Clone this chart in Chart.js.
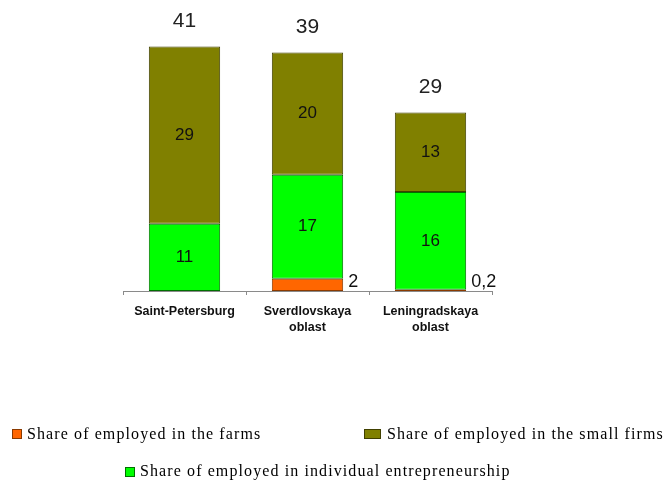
<!DOCTYPE html>
<html>
<head>
<meta charset="utf-8">
<script src="https://cdn.jsdelivr.net/npm/chart.js@4.4.1/dist/chart.umd.min.js"></script>
<style>
  html, body { margin: 0; padding: 0; background: #ffffff; }
  #wrap { width: 667px; height: 484px; }
</style>
</head>
<body>
<div id="wrap"><canvas id="chart" width="667" height="484"></canvas></div>
<script>
// Regions (multi-line category labels)
const regions = [['Saint-Petersburg'], ['Sverdlovskaya', 'oblast'], ['Leningradskaya', 'oblast']];

// Shares of employed, % (stacked bottom to top)
const farms = [0, 2, 0.2];
const individual = [11, 17, 16];
const smallFirms = [29, 20, 13];

// Printed totals above each column
const totals = [41, 39, 29];
// Printed labels for the farms share (comma decimal)
const farmLabels = ['', '2', '0,2'];

const seriesNames = [
  'Share of employed in the farms',
  'Share of employed in individual entrepreneurship',
  'Share of employed in the small firms'
];
const colors = ['#ff6600', '#00ff00', '#808000'];
const borders = ['#8a3a00', '#007000', '#404000'];

// Values written on and above the columns
const valueLabels = {
  id: 'valueLabels',
  afterDatasetsDraw(chart) {
    const ctx = chart.ctx;
    const y0 = chart.scales.y.getPixelForValue(0);
    ctx.save();
    ctx.fillStyle = '#111';
    ctx.textBaseline = 'middle';
    // farms: written beside the column
    chart.getDatasetMeta(0).data.forEach((bar, i) => {
      if (!farms[i]) return;
      ctx.font = '18px "Liberation Sans", Arial, sans-serif';
      ctx.textAlign = 'left';
      ctx.fillText(farmLabels[i], bar.x + bar.width / 2 + 5, y0 - 9);
    });
    // individual and small firms: centred in the segment
    [1, 2].forEach(d => {
      const vals = chart.data.datasets[d].data;
      chart.getDatasetMeta(d).data.forEach((bar, i) => {
        ctx.font = '17px "Liberation Sans", Arial, sans-serif';
        ctx.textAlign = 'center';
        ctx.fillText(String(vals[i]), bar.x, (bar.y + bar.base) / 2);
      });
    });
    // totals above the column
    chart.getDatasetMeta(2).data.forEach((bar, i) => {
      ctx.font = '21px "Liberation Sans", Arial, sans-serif';
      ctx.fillStyle = '#222';
      ctx.textAlign = 'center';
      ctx.fillText(String(totals[i]), bar.x, bar.y - 25);
    });
    ctx.restore();
  }
};

// Legend laid out in two rows under the chart
const bottomLegend = {
  id: 'bottomLegend',
  afterDraw(chart) {
    const ctx = chart.ctx;
    const items = [
      { idx: 0, box: [12, 429, 10, 10], tx: 27, ty: 435 },
      { idx: 2, box: [364, 429, 17, 10], tx: 387, ty: 435 },
      { idx: 1, box: [125, 467, 10, 10], tx: 140, ty: 472 }
    ];
    ctx.save();
    ctx.font = '16px "Liberation Serif", "Times New Roman", serif';
    ctx.textBaseline = 'middle';
    ctx.textAlign = 'left';
    if ('letterSpacing' in ctx) ctx.letterSpacing = '1.1px';
    items.forEach(it => {
      const [x, y, w, h] = it.box;
      ctx.fillStyle = colors[it.idx];
      ctx.fillRect(x, y, w, h);
      ctx.strokeStyle = borders[it.idx];
      ctx.lineWidth = 1;
      ctx.strokeRect(x + 0.5, y + 0.5, w - 1, h - 1);
      ctx.fillStyle = '#000';
      ctx.fillText(seriesNames[it.idx], it.tx, it.ty);
    });
    ctx.restore();
  }
};

new Chart(document.getElementById('chart'), {
  type: 'bar',
  data: {
    labels: regions,
    datasets: [
      { label: seriesNames[0], data: farms },
      { label: seriesNames[1], data: individual },
      { label: seriesNames[2], data: smallFirms }
    ].map((ds, k) => Object.assign(ds, {
      backgroundColor: colors[k],
      borderColor: borders[k],
      borderWidth: 1,
      borderSkipped: false,
      categoryPercentage: 1,
      barPercentage: 0.58
    }))
  },
  options: {
    responsive: false,
    animation: false,
    layout: { padding: { left: 123, right: 175, top: 22, bottom: 143 } },
    plugins: { legend: { display: false }, tooltip: { enabled: false } },
    scales: {
      x: {
        stacked: true,
        afterFit(scale) { scale.height = 50; },
        border: { display: true, color: '#8a8a8a', width: 1 },
        grid: { drawOnChartArea: false, drawTicks: true, tickLength: 4, color: '#8a8a8a' },
        ticks: {
          color: '#111',
          padding: 8,
          font: { family: '"Liberation Sans", Arial, sans-serif', size: 12.5, weight: 'bold', lineHeight: 1.33 }
        }
      },
      y: {
        stacked: true,
        display: false,
        min: 0,
        max: 44
      }
    }
  },
  plugins: [valueLabels, bottomLegend]
});
</script>
</body>
</html>
